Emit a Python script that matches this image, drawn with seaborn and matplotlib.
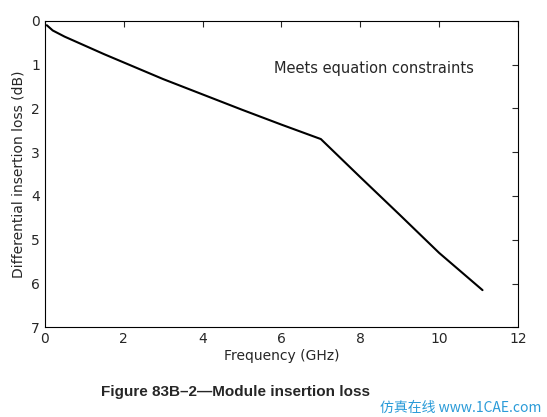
import matplotlib
matplotlib.use("Agg")
import matplotlib.pyplot as plt
import seaborn as sns
import pandas as pd

freq = [0.05, 0.2, 0.5, 1.0, 1.5, 2.0, 3.0, 4.0, 5.0, 6.0, 7.0, 8.0, 9.0, 10.0, 11.1]
loss = [0.1, 0.22, 0.36, 0.56, 0.76, 0.95, 1.33, 1.68, 2.03, 2.37, 2.7, 3.57, 4.43, 5.3, 6.15]
xticks = [0, 2, 4, 6, 8, 10, 12]
yticks = [0, 1, 2, 3, 4, 5, 6, 7]

sns.set_style("white")
plt.rcParams['font.family'] = ['DejaVu Sans', 'Noto Sans CJK SC']
fig = plt.figure(figsize=(5.47, 4.17), dpi=100)
ax = fig.add_axes([0.082, 0.215, 0.865, 0.735])
df = pd.DataFrame({"f": freq, "l": loss})
sns.lineplot(data=df, x="f", y="l", ax=ax, color="black", linewidth=1.5)
ax.set_xlim(0, 12)
ax.set_ylim(7, 0)
ax.set_xticks(xticks)
ax.set_yticks(yticks)
ax.tick_params(direction="in", labelsize=10, length=4, top=True, right=True)
for s in ax.spines.values():
    s.set_color("black"); s.set_linewidth(0.8)
ax.set_xlabel("Frequency (GHz)", fontsize=10, labelpad=2)
ax.set_ylabel("Differential insertion loss (dB)", fontsize=10, labelpad=4)
ax.text(5.8, 1.2, "Meets equation constraints", fontsize=10.5)
fig.text(0.43, 0.05, "Figure 83B\u20132\u2014Module insertion loss", ha="center",
         fontsize=11, fontweight="bold", family="Liberation Sans")
fig.text(0.99, 0.012, "仿真在线 www.1CAE.com", ha="right", fontsize=10,
         color="#2a9bd8", family=["Noto Sans CJK SC", "DejaVu Sans"])
fig.savefig("out.png", dpi=100, facecolor="white")
